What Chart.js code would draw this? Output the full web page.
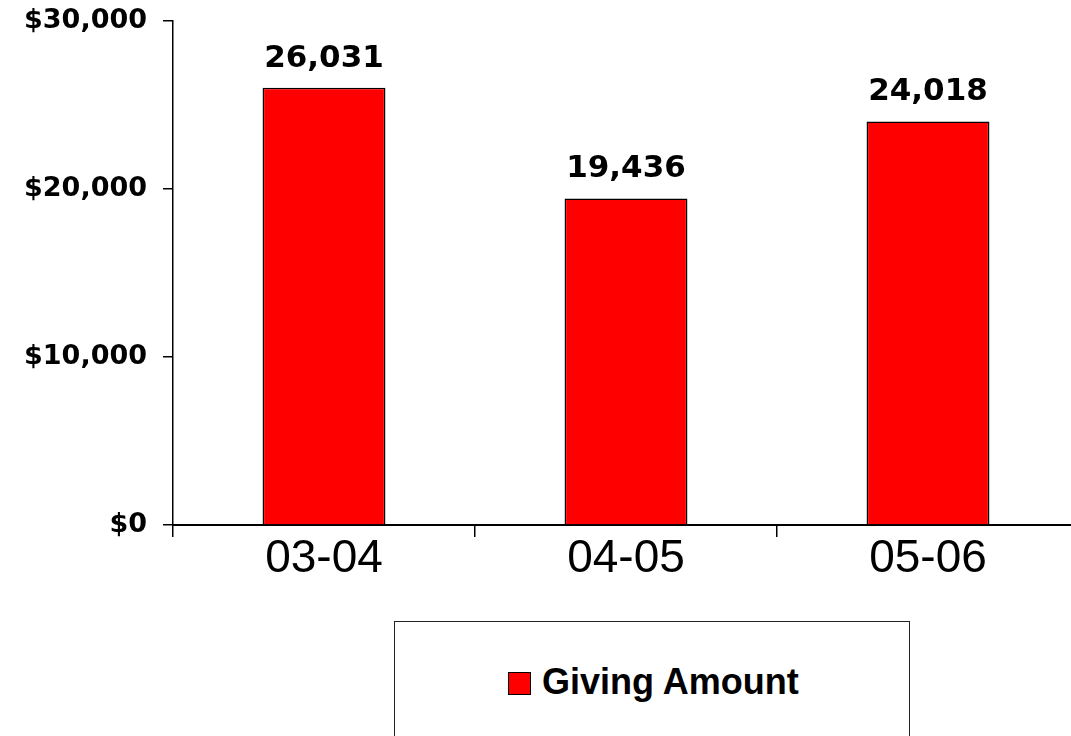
<!DOCTYPE html>
<html>
<head>
<meta charset="utf-8">
<script src="https://cdn.jsdelivr.net/npm/chart.js@4/dist/chart.umd.min.js"></script>
<style>
  html, body { margin: 0; padding: 0; background: #fff; overflow: hidden; width: 1071px; height: 736px; }
  #wrap { position: absolute; left: 0; top: 0; width: 1080px; height: 736px; }
  #legend {
    position: absolute; left: 394px; top: 621px; width: 516px; height: 130px;
    border: 1.5px solid #222; box-sizing: border-box; background: #fff;
  }
  #legend .item {
    position: absolute; left: 113px; top: 40px; white-space: nowrap;
    font-family: "Liberation Sans", Arial, sans-serif; font-weight: bold; font-size: 36px; color: #000;
    line-height: 40px;
  }
  #legend .sw {
    display: inline-block; width: 21px; height: 21px; background: #ff0000; border: 1px solid #000;
    vertical-align: -1px; margin-right: 11px;
  }
</style>
</head>
<body>
<div id="wrap"><canvas id="c" width="1080" height="736"></canvas></div>
<div id="legend"><div class="item"><span class="sw"></span><span>Giving Amount</span></div></div>
<script>
const categories = ["03-04", "04-05", "05-06"];
const givingAmount = [26031, 19436, 24018];
const seriesName = "Giving Amount";
const yTicks = [0, 10000, 20000, 30000];

const valueLabels = {
  id: 'valueLabels',
  afterDatasetsDraw(chart) {
    const ctx = chart.ctx;
    const meta = chart.getDatasetMeta(0);
    ctx.save();
    ctx.font = 'bold 31px "DejaVu Sans", Verdana, sans-serif';
    ctx.fillStyle = '#000';
    ctx.textAlign = 'center';
    ctx.textBaseline = 'alphabetic';
    meta.data.forEach((bar, i) => {
      const v = chart.data.datasets[0].data[i];
      ctx.fillText(v.toLocaleString('en-US'), bar.x, bar.y - 21);
    });
    ctx.restore();
  }
};

new Chart(document.getElementById('c'), {
  type: 'bar',
  data: {
    labels: categories,
    datasets: [{
      label: seriesName,
      data: givingAmount,
      backgroundColor: '#ff0000',
      borderColor: '#000000',
      borderWidth: 1.6,
      borderSkipped: 'bottom',
      barPercentage: 0.407,
      categoryPercentage: 1.0
    }]
  },
  options: {
    responsive: false,
    animation: false,
    devicePixelRatio: 1,
    layout: { padding: { top: 21, right: 1, bottom: 0, left: 0 } },
    plugins: { legend: { display: false }, tooltip: { enabled: false } },
    scales: {
      x: {
        grid: { offset: true, drawOnChartArea: false, drawTicks: true, tickLength: 12, color: '#000', lineWidth: 1.5 },
        border: { display: true, color: '#000', width: 2 },
        ticks: {
          color: '#000', padding: -5,
          font: { family: '"Liberation Sans", Arial, sans-serif', size: 46 }
        },
        afterFit(scale) { scale.height = 211; scale.paddingLeft = 0; scale.paddingRight = 0; }
      },
      y: {
        min: 0, max: 30000,
        afterBuildTicks(scale) { scale.ticks = yTicks.map(v => ({ value: v })); },
        grid: { drawOnChartArea: false, drawTicks: true, tickLength: 10, color: '#000', lineWidth: 1.5 },
        border: { display: true, color: '#000', width: 1.5 },
        ticks: {
          color: '#000', padding: 16,
          font: { family: '"DejaVu Sans", Verdana, sans-serif', size: 27, weight: 'bold' },
          callback: (v) => '$' + Number(v).toLocaleString('en-US')
        },
        afterFit(scale) { scale.width = 173; scale.paddingTop = 0; scale.paddingBottom = 0; }
      }
    }
  },
  plugins: [valueLabels]
});
</script>
</body>
</html>
